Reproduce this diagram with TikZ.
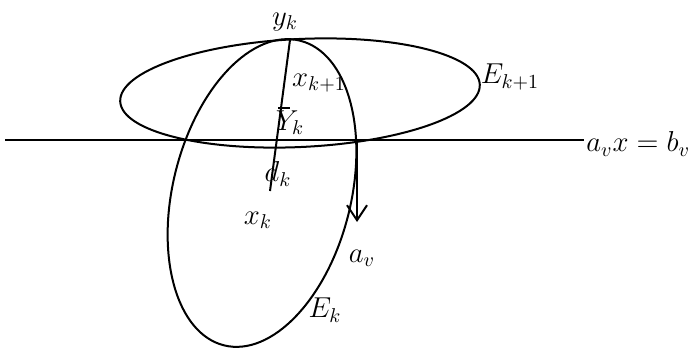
\documentclass[tikz,border=0pt]{standalone}
\usetikzlibrary{arrows.meta}
\begin{document}
\begin{tikzpicture}[x=0.5pt, y=0.5pt, every node/.style={font=\Large, inner sep=1pt},
    kurve/.style={line width=1pt}]
  \useasboundingbox (0,0) rectangle (692,349);
  % Ellipsen E_k und E_{k+1}
  \draw[kurve, rotate around={2.7:(300,256)}] (300,256) ellipse [x radius=180, y radius=54];
  \draw[kurve, rotate around={76:(262,156)}] (262,156) ellipse [x radius=157, y radius=89];
  % Punkte
  \coordinate (yk) at (290,309);
  \coordinate (dkende) at (270,158);
  \coordinate (links) at (5,209);
  \coordinate (schnitt) at (357,209);
  \coordinate (pfeilspitze) at (357,127);
  \path (yk) -- (dkende) coordinate[pos=0.45] (strich);
  % Beschriftungen
  \node (lyk) at (285,327) {$y_k$};
  \node (lxk1) at (319,266) {$x_{k+1}$};
  \node (lYk) at (290,226) {$Y_k$};
  \node (ldk) at (278,175) {$d_k$};
  \node (lxk) at (258,129) {$x_k$};
  \node (lav) at (362,91) {$a_v$};
  \node (lEk) at (325,39) {$E_k$};
  \node (lEk1) at (510,272) {$E_{k+1}$};
  \node[anchor=west] (gerade) at (584,205) {$a_v x = b_v$};
  % Linien
  \draw[kurve] (links) -- (links -| gerade.west);
  \draw[kurve] (yk) -- (dkende);
  \draw[kurve] ([xshift=-1.5pt]strich) -- ([xshift=4.5pt]strich);
  \draw[kurve, -{Straight Barb[length=7.5pt, width=10pt]}] (schnitt) -- (pfeilspitze);
\end{tikzpicture}
\end{document}
